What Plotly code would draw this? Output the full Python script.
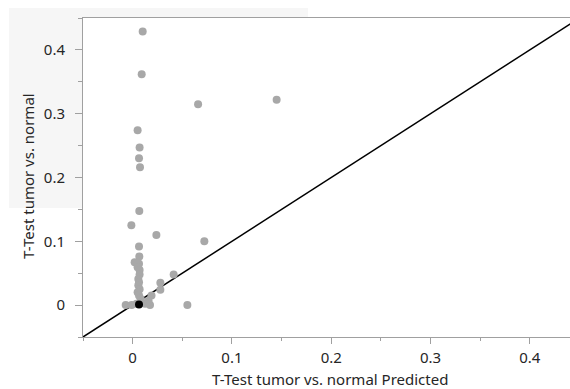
import plotly.graph_objects as go

# Data
pred_x = [0.0101, 0.0091, 0.0659, 0.145, 0.005, 0.007, 0.0064, 0.0074, 0.0067,
          -0.0013, 0.0239, 0.0722, 0.0064, 0.0067, 0.0020, 0.0064, 0.0050, 0.0070,
          0.0070, 0.0057, 0.0064, 0.0057, 0.0070, 0.0050, 0.0064, 0.0413, 0.0279,
          0.0279, 0.0551, 0.019, 0.016, -0.007, -0.001, 0.0125, 0.0175, 0.009,
          0.004, 0.008]
actual_y = [0.429, 0.362, 0.315, 0.322, 0.274, 0.247, 0.230, 0.216, 0.1475,
            0.125, 0.110, 0.100, 0.092, 0.076, 0.067, 0.065, 0.0595, 0.055,
            0.048, 0.041, 0.036, 0.031, 0.025, 0.020, 0.015, 0.048, 0.035,
            0.024, 0.0, 0.015, 0.007, 0.0, 0.0, 0.002, 0.0, 0.0045,
            0.002, 0.010]
sel_x = [0.0064]
sel_y = [0.001]
diag = [-0.05, 0.45]

x_ticks = [0, 0.1, 0.2, 0.3, 0.4]
x_ticklabels = ["0", "0.1", "0.2", "0.3", "0.4"]
y_ticks = [0, 0.1, 0.2, 0.3, 0.4]
y_ticklabels = ["0", "0.1", "0.2", "0.3", "0.4"]

FONT = "Noto Sans"
TXT = "#262626"
AX = "#a0a0a0"
FS = 15

W, H = 570, 389
L, R, T, B = 83, 0, 18, 52
pw, ph = W - L - R, H - T - B

def px_x(p):
    return (p - L) / pw

def px_y(p):
    return (H - B - p) / ph

fig = go.Figure()
fig.add_trace(go.Scatter(x=diag, y=diag, mode="lines",
                         line=dict(color="black", width=1.5), hoverinfo="skip"))
fig.add_trace(go.Scatter(x=pred_x, y=actual_y, mode="markers",
                         marker=dict(color="#a8a8a8", size=8)))
fig.add_trace(go.Scatter(x=sel_x, y=sel_y, mode="markers",
                         marker=dict(color="black", size=8)))

fig.update_layout(
    width=W, height=H,
    margin=dict(l=L, r=R, t=T, b=B),
    paper_bgcolor="white", plot_bgcolor="white",
    showlegend=False,
    font=dict(family=FONT, size=FS, color=TXT),
    xaxis=dict(range=[-0.05, -0.05 + pw / 993.0], tickvals=x_ticks, ticktext=x_ticklabels,
               showgrid=False, zeroline=False, showline=True, linecolor=AX, linewidth=1,
               mirror=True, ticks="outside", ticklen=6, tickcolor=AX,
               ticklabelstandoff=1,
               minor=dict(dtick=0.05, tick0=0, ticks="outside", ticklen=3, tickcolor=AX,
                          showgrid=False),
               tickfont=dict(size=FS, color=TXT, family=FONT)),
    yaxis=dict(range=[-0.05, 0.45], tickvals=y_ticks, ticktext=y_ticklabels,
               showgrid=False, zeroline=False, showline=True, linecolor=AX, linewidth=1,
               ticks="outside", ticklen=7, tickcolor=AX,
               ticklabelstandoff=7,
               minor=dict(dtick=0.05, tick0=0, ticks="outside", ticklen=4, tickcolor=AX,
                          showgrid=False),
               tickfont=dict(size=FS, color=TXT, family=FONT)),
    shapes=[
        dict(type="rect", xref="paper", yref="paper", layer="below",
             x0=px_x(9), x1=px_x(82), y0=px_y(208), y1=px_y(8),
             fillcolor="#f6f6f6", line=dict(width=0)),
        dict(type="rect", xref="paper", yref="paper", layer="below",
             x0=px_x(82), x1=px_x(308), y0=px_y(18), y1=px_y(8),
             fillcolor="#f6f6f6", line=dict(width=0)),
    ],
    annotations=[
        dict(text="T-Test tumor vs. normal Predicted", xref="paper", yref="paper",
             x=px_x(330), y=px_y(379), xanchor="center", yanchor="middle",
             showarrow=False, font=dict(size=FS, color=TXT, family=FONT)),
        dict(text="T-Test tumor vs. normal", xref="paper", yref="paper",
             x=px_x(28), y=px_y(176), xanchor="center", yanchor="middle",
             textangle=-90, showarrow=False, font=dict(size=FS, color=TXT, family=FONT)),
    ],
)

fig.write_html("out.html")
